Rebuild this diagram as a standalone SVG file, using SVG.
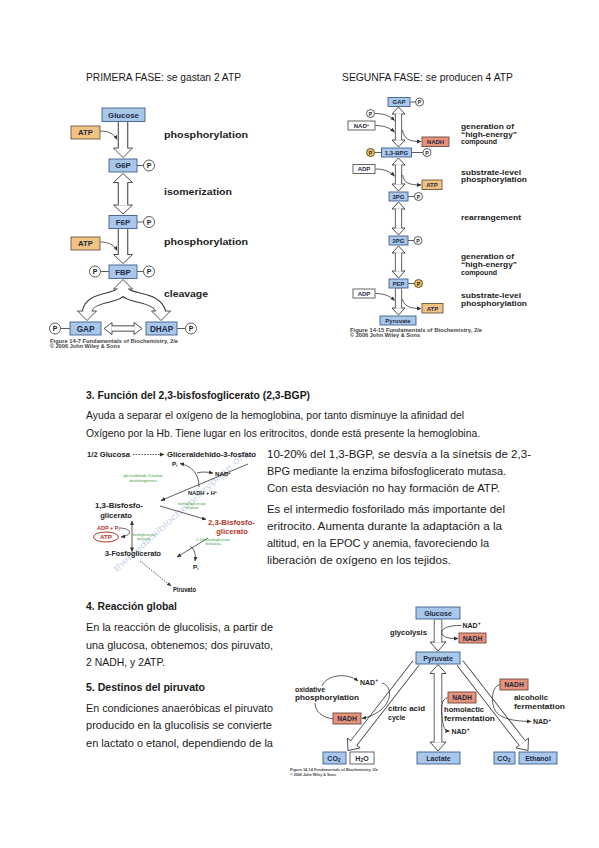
<svg xmlns="http://www.w3.org/2000/svg" width="599" height="848" viewBox="0 0 599 848">
<defs>
<style>
text{font-family:"Liberation Sans",Arial,sans-serif}
.t{font-size:11.6px;fill:#1a1a1a}
.tb{font-size:11.6px;fill:#1a1a1a;font-weight:bold}
.lb{font-weight:bold;fill:#1f2b44;text-anchor:middle}
.dl{font-weight:bold;fill:#222}
.cap{font-weight:bold;fill:#444}
.bx{fill:#a8c7ea;stroke:#3e5f8c;stroke-width:0.9}
.or{fill:#f2c283;stroke:#6a5842;stroke-width:0.9}
.rd{fill:#e8927a;stroke:#6a4a40;stroke-width:0.9}
.wb{fill:#fff;stroke:#555;stroke-width:0.9}
.pc{fill:#fff;stroke:#333;stroke-width:0.8}
.py{fill:#f3c54f;stroke:#333;stroke-width:0.8}
.ln{stroke:#333;stroke-width:0.8}
.ao{fill:none;stroke:#3a3a3a}
.ai{fill:none;stroke:#fff}
.hd{fill:#fff;stroke:#3a3a3a;stroke-width:0.9;stroke-linejoin:miter}
.cv{fill:none;stroke:#333;stroke-width:0.8}
.mr{fill:#b3382b}
.gr{fill:#43a047;font-size:3.8px;text-anchor:middle}
.ptx{font-weight:bold;fill:#222;text-anchor:middle}
</style>
<marker id="ah" viewBox="0 0 6 6" refX="5.5" refY="3" markerWidth="4.5" markerHeight="4.5" orient="auto-start-reverse" markerUnits="userSpaceOnUse"><path d="M0,0.4 L6,3 L0,5.6z" fill="#333"/></marker>
</defs>
<rect width="599" height="848" fill="#fff"/>

<!-- Body text -->
<g id="texts">
<text class="t" x="86" y="81" textLength="155" lengthAdjust="spacingAndGlyphs">PRIMERA FASE: se gastan 2 ATP</text>
<text class="t" x="342" y="81" textLength="171" lengthAdjust="spacingAndGlyphs">SEGUNFA FASE: se producen 4 ATP</text>
<text class="tb" x="86" y="399" textLength="224" lengthAdjust="spacingAndGlyphs">3. Función del 2,3-bisfosfoglicerato (2,3-BGP)</text>
<text class="t" x="86" y="418.5" textLength="378" lengthAdjust="spacingAndGlyphs">Ayuda a separar el oxígeno de la hemoglobina, por tanto disminuye la afinidad del</text>
<text class="t" x="86" y="436.5" textLength="394" lengthAdjust="spacingAndGlyphs">Oxígeno por la Hb. Tiene lugar en los eritrocitos, donde está presente la hemoglobina.</text>
<text class="t" x="267" y="458" textLength="264" lengthAdjust="spacingAndGlyphs">10-20% del 1,3-BGP, se desvía a la sínetsis de 2,3-</text>
<text class="t" x="267" y="475" textLength="239" lengthAdjust="spacingAndGlyphs">BPG mediante la enzima bifosfoglicerato mutasa.</text>
<text class="t" x="267" y="492" textLength="233" lengthAdjust="spacingAndGlyphs">Con esta desviación no hay formación de ATP.</text>
<text class="t" x="267" y="513" textLength="238" lengthAdjust="spacingAndGlyphs">Es el intermedio fosforilado más importante del</text>
<text class="t" x="267" y="530" textLength="235" lengthAdjust="spacingAndGlyphs">eritrocito. Aumenta durante la adaptación a la</text>
<text class="t" x="267" y="547" textLength="222" lengthAdjust="spacingAndGlyphs">altitud, en la  EPOC y anemia, favoreciendo la</text>
<text class="t" x="267" y="564" textLength="184" lengthAdjust="spacingAndGlyphs">liberación de oxígeno en los tejidos.</text>
<text class="tb" x="86" y="610" textLength="91" lengthAdjust="spacingAndGlyphs">4. Reacción global</text>
<text class="t" x="86" y="631" textLength="187" lengthAdjust="spacingAndGlyphs">En la reacción de glucolisis, a partir de</text>
<text class="t" x="86" y="648.5" textLength="187" lengthAdjust="spacingAndGlyphs">una glucosa, obtenemos; dos piruvato,</text>
<text class="t" x="86" y="666" textLength="79" lengthAdjust="spacingAndGlyphs">2 NADH, y 2ATP.</text>
<text class="tb" x="86" y="690.5" textLength="119" lengthAdjust="spacingAndGlyphs">5. Destinos del piruvato</text>
<text class="t" x="86" y="711.5" textLength="187" lengthAdjust="spacingAndGlyphs">En condiciones anaeróbicas el piruvato</text>
<text class="t" x="86" y="729" textLength="186" lengthAdjust="spacingAndGlyphs">producido en la glucolisis se convierte</text>
<text class="t" x="86" y="746.5" textLength="187" lengthAdjust="spacingAndGlyphs">en lactato o etanol, dependiendo de la</text>
</g>

<!-- ===== Diagram 1: PRIMERA FASE ===== -->
<g id="conn-fase1">
<g class="ao" stroke-width="10.5">
<path d="M123,122 V149"/><path d="M123,183 V204.5"/><path d="M123,229 V255"/>
<path d="M123,288 C122,301 89,294 87,312"/><path d="M123,288 C124,301 157,294 161,312"/>
</g>
<path class="ao" stroke-width="6.2" d="M112,328.5 H134"/>
<polygon class="hd" points="113.5,148 132.5,148 123,157.5"/>
<polygon class="hd" points="113.5,182.5 132.5,182.5 123,173.5"/>
<polygon class="hd" points="113.5,205 132.5,205 123,214"/>
<polygon class="hd" points="113.5,254.5 132.5,254.5 123,263.5"/>
<polygon class="hd" points="113.5,289 132.5,289 123,279.5"/>
<polygon class="hd" points="77.5,311 96.5,311 87,320.5"/>
<polygon class="hd" points="151.5,311 170.5,311 161,320.5"/>
<polygon class="hd" points="112,322.5 112,334.5 104,328.5"/>
<polygon class="hd" points="134,322.5 134,334.5 142,328.5"/>
<g class="ai" stroke-width="8.5">
<path d="M123,122 V149.5"/><path d="M123,181.9 V205.6"/><path d="M123,229 V255.4"/>
<path d="M123,287.5 C122,301 89,294 87,312.5"/><path d="M123,287.5 C124,301 157,294 161,312.5"/>
</g>
<path class="ai" stroke-width="4.4" d="M111.4,328.5 H134.6"/>
<path class="cv" marker-end="url(#ah)" d="M100.5,131 C109,131 114.5,134.5 117,139.5"/>
<path class="cv" marker-end="url(#ah)" d="M100.5,242 C109,242 114.5,245.5 117,250.5"/>
<line class="ln" x1="137" y1="165.5" x2="143.5" y2="165.5"/>
<line class="ln" x1="137" y1="222" x2="143.5" y2="222"/>
<line class="ln" x1="100.5" y1="271.5" x2="109" y2="271.5"/>
<line class="ln" x1="137" y1="271.5" x2="143.5" y2="271.5"/>
<line class="ln" x1="60.5" y1="328.5" x2="70" y2="328.5"/>
<line class="ln" x1="177" y1="328.5" x2="185.5" y2="328.5"/>
</g>
<g id="glucose1"><rect class="bx" x="102" y="108" width="43" height="13.5"/><text class="lb" x="123.5" y="117.6" font-size="7.8">Glucose</text></g>
<g id="atp1a"><rect class="or" x="71" y="126" width="29" height="13"/><text class="lb" x="85.5" y="135.4" font-size="7.8">ATP</text></g>
<g id="g6p"><rect class="bx" x="109" y="159" width="28" height="13"/><text class="lb" x="123" y="168.4" font-size="7.8">G6P</text>
<circle class="pc" cx="149" cy="165.5" r="5.5"/><text class="ptx" x="149" y="168.2" font-size="7">P</text></g>
<g id="f6p"><rect class="bx" x="109" y="215.5" width="28" height="13"/><text class="lb" x="123" y="224.9" font-size="7.8">F6P</text>
<circle class="pc" cx="149" cy="222" r="5.5"/><text class="ptx" x="149" y="224.7" font-size="7">P</text></g>
<g id="atp1b"><rect class="or" x="71" y="237" width="29" height="13"/><text class="lb" x="85.5" y="246.4" font-size="7.8">ATP</text></g>
<g id="fbp"><rect class="bx" x="109" y="265" width="28" height="13.5"/><text class="lb" x="123" y="274.6" font-size="7.8">FBP</text>
<circle class="pc" cx="95" cy="271.5" r="5.5"/><text class="ptx" x="95" y="274.2" font-size="7">P</text>
<circle class="pc" cx="149" cy="271.5" r="5.5"/><text class="ptx" x="149" y="274.2" font-size="7">P</text></g>
<g id="gap1"><rect class="bx" x="70" y="322" width="31" height="13"/><text class="lb" x="85.5" y="331.6" font-size="8.2">GAP</text>
<circle class="pc" cx="55" cy="328.5" r="5.5"/><text class="ptx" x="55" y="331.2" font-size="7">P</text></g>
<g id="dhap"><rect class="bx" x="146" y="322" width="31" height="13"/><text class="lb" x="161.5" y="331.6" font-size="8.2">DHAP</text>
<circle class="pc" cx="191" cy="328.5" r="5.5"/><text class="ptx" x="191" y="331.2" font-size="7">P</text></g>
<g id="labels1">
<text class="dl" x="164" y="137.5" font-size="9.5" textLength="84" lengthAdjust="spacingAndGlyphs">phosphorylation</text>
<text class="dl" x="164" y="195" font-size="9.5" textLength="68" lengthAdjust="spacingAndGlyphs">isomerization</text>
<text class="dl" x="164" y="245" font-size="9.5" textLength="84" lengthAdjust="spacingAndGlyphs">phosphorylation</text>
<text class="dl" x="164" y="296.5" font-size="9.5" textLength="44" lengthAdjust="spacingAndGlyphs">cleavage</text>
<text class="cap" x="50" y="342.5" font-size="4.6" textLength="128" lengthAdjust="spacingAndGlyphs">Figure 14-7  Fundamentals of Biochemistry, 2/e</text>
<text class="cap" x="50" y="347.5" font-size="4.6" textLength="70" lengthAdjust="spacingAndGlyphs">© 2006 John Wiley &amp; Sons</text>
</g>

<!-- ===== Diagram 2: SEGUNDA FASE ===== -->
<g id="conn-fase2">
<g class="ao" stroke-width="7.2">
<path d="M398.5,114 V140"/><path d="M398.5,165 V184"/><path d="M398.5,209 V228"/><path d="M398.5,253 V271"/><path d="M398.5,288.5 V308"/>
</g>
<polygon class="hd" points="392,114 405,114 398.5,107"/><polygon class="hd" points="392,140 405,140 398.5,147"/>
<polygon class="hd" points="392,165 405,165 398.5,158"/><polygon class="hd" points="392,184 405,184 398.5,191"/>
<polygon class="hd" points="392,209 405,209 398.5,202"/><polygon class="hd" points="392,228 405,228 398.5,235"/>
<polygon class="hd" points="392,253 405,253 398.5,246"/><polygon class="hd" points="392,271 405,271 398.5,278"/>
<polygon class="hd" points="392,308 405,308 398.5,315"/>
<g class="ai" stroke-width="5.6">
<path d="M398.5,113.4 V140.6"/><path d="M398.5,164.4 V184.6"/><path d="M398.5,208.4 V228.6"/><path d="M398.5,252.4 V271.6"/><path d="M398.5,288.5 V308.6"/>
</g>
<path class="cv" marker-end="url(#ah)" d="M374.5,113.5 C384,113.5 390,116 394.5,120.5"/>
<path class="cv" marker-end="url(#ah)" d="M375.5,125.5 C384,125.5 390,128 394.5,132"/>
<path class="cv" marker-end="url(#ah)" d="M402.5,130 C404,139 409,141.5 421,141.5"/>
<path class="cv" marker-end="url(#ah)" d="M375.5,169 C384,169 390,171.5 394.5,176"/>
<path class="cv" marker-end="url(#ah)" d="M402.5,175 C404,183 409,185 421,185"/>
<path class="cv" marker-end="url(#ah)" d="M375.5,293.5 C384,293.5 390,296 394.5,300.5"/>
<path class="cv" marker-end="url(#ah)" d="M402.5,299 C404,306 409,308.5 421,308.5"/>
<line class="ln" x1="410" y1="102" x2="415.5" y2="102"/>
<line class="ln" x1="374.5" y1="152.5" x2="381.5" y2="152.5"/>
<line class="ln" x1="411.5" y1="152.5" x2="423" y2="152.5"/>
<line class="ln" x1="408" y1="196.5" x2="414.5" y2="196.5"/>
<line class="ln" x1="408" y1="240.5" x2="414" y2="240.5"/>
<line class="ln" x1="408" y1="283.5" x2="414.5" y2="283.5"/>
</g>
<g id="gap2"><rect class="bx" x="388" y="97.5" width="22" height="9"/><text class="lb" x="399" y="104.3" font-size="6">GAP</text>
<circle class="pc" cx="419.5" cy="102" r="4"/><text class="ptx" x="419.5" y="104" font-size="5.2">P</text></g>
<g id="pi2"><circle class="pc" cx="370.5" cy="113.5" r="4"/><text class="ptx" x="370.5" y="115.5" font-size="5.2">P</text></g>
<g id="nad2"><rect class="wb" x="348" y="121" width="27" height="9"/><text class="lb" x="361.5" y="127.8" font-size="6">NAD<tspan font-size="4.2" dy="-2">+</tspan></text></g>
<g id="nadh2"><rect class="rd" x="422" y="137" width="27" height="9.5"/><text class="lb" x="435.5" y="144" font-size="6">NADH</text></g>
<g id="bpg13"><rect class="bx" x="381.5" y="148" width="30" height="9"/><text class="lb" x="396.5" y="154.8" font-size="6">1,3-BPG</text>
<circle class="py" cx="370.5" cy="152.5" r="4"/><text class="ptx" x="370.5" y="154.5" font-size="5.2">P</text>
<circle class="pc" cx="427" cy="152.5" r="4"/><text class="ptx" x="427" y="154.5" font-size="5.2">P</text></g>
<g id="adp2a"><rect class="wb" x="353" y="164.5" width="22" height="9"/><text class="lb" x="364" y="171.3" font-size="6">ADP</text></g>
<g id="atp2a"><rect class="or" x="422" y="180" width="20" height="9.5"/><text class="lb" x="432" y="187" font-size="6">ATP</text></g>
<g id="pg3"><rect class="bx" x="389" y="192" width="19" height="9"/><text class="lb" x="398.5" y="198.8" font-size="6">3PG</text>
<circle class="pc" cx="418.5" cy="196.5" r="4"/><text class="ptx" x="418.5" y="198.5" font-size="5.2">P</text></g>
<g id="pg2"><rect class="bx" x="389" y="236" width="19" height="9"/><text class="lb" x="398.5" y="242.8" font-size="6">2PG</text>
<circle class="pc" cx="418" cy="240.5" r="4"/><text class="ptx" x="418" y="242.5" font-size="5.2">P</text></g>
<g id="pep"><rect class="bx" x="389" y="279" width="19" height="9"/><text class="lb" x="398.5" y="285.8" font-size="6">PEP</text>
<circle class="py" cx="418.5" cy="283.5" r="4"/><text class="ptx" x="418.5" y="285.5" font-size="5.2">P</text></g>
<g id="adp2b"><rect class="wb" x="353" y="289" width="22" height="9"/><text class="lb" x="364" y="295.8" font-size="6">ADP</text></g>
<g id="atp2b"><rect class="or" x="422" y="303.5" width="21" height="9.5"/><text class="lb" x="432.5" y="310.5" font-size="6">ATP</text></g>
<g id="pyr2"><rect class="bx" x="380" y="316" width="36" height="9"/><text class="lb" x="398" y="322.8" font-size="6">Pyruvate</text></g>
<g id="labels2" font-size="6.6">
<text class="dl" x="461" y="129" textLength="53" lengthAdjust="spacingAndGlyphs">generation of</text>
<text class="dl" x="461" y="136.5" textLength="56" lengthAdjust="spacingAndGlyphs">“high-energy”</text>
<text class="dl" x="461" y="144" textLength="36" lengthAdjust="spacingAndGlyphs">compound</text>
<text class="dl" x="461" y="174.8" textLength="60" lengthAdjust="spacingAndGlyphs">substrate-level</text>
<text class="dl" x="461" y="182.3" textLength="66" lengthAdjust="spacingAndGlyphs">phosphorylation</text>
<text class="dl" x="461" y="219.6" textLength="60" lengthAdjust="spacingAndGlyphs">rearrangement</text>
<text class="dl" x="461" y="259" textLength="53" lengthAdjust="spacingAndGlyphs">generation of</text>
<text class="dl" x="461" y="267" textLength="56" lengthAdjust="spacingAndGlyphs">“high-energy”</text>
<text class="dl" x="461" y="275" textLength="36" lengthAdjust="spacingAndGlyphs">compound</text>
<text class="dl" x="461" y="298.3" textLength="60" lengthAdjust="spacingAndGlyphs">substrate-level</text>
<text class="dl" x="461" y="306" textLength="66" lengthAdjust="spacingAndGlyphs">phosphorylation</text>
<text class="cap" x="350" y="331.5" font-size="4.6" textLength="132" lengthAdjust="spacingAndGlyphs">Figure 14-15  Fundamentals of Biochemistry, 2/e</text>
<text class="cap" x="350" y="336.5" font-size="4.6" textLength="70" lengthAdjust="spacingAndGlyphs">© 2006 John Wiley &amp; Sons</text>
</g>

<!-- ===== Diagram 3: 2,3-BPG shunt ===== -->
<g id="watermark"><text x="0" y="0" transform="translate(117,572) rotate(-42)" font-size="9" fill="#8fb0dd" fill-opacity="0.55" textLength="177" lengthAdjust="spacingAndGlyphs">themedicalbiochemistrypage.org</text></g>
<g id="conn-shunt">
<line class="cv" x1="133" y1="454.5" x2="164" y2="454.5" stroke-dasharray="1.6 1.2" marker-end="url(#ah)"/>
<line class="cv" x1="248" y1="464" x2="161" y2="500.5" marker-end="url(#ah)"/>
<path class="cv" marker-end="url(#ah)" d="M199,487 C199,474 192,466 180,463.5"/>
<path class="cv" marker-end="url(#ah)" d="M197,473 C202,471.5 207,472 213,473"/>
<line class="cv" x1="160" y1="506" x2="206" y2="519.5" marker-end="url(#ah)"/>
<line class="cv" x1="132" y1="521" x2="132" y2="551.5" marker-start="url(#ah)" marker-end="url(#ah)"/>
<path class="cv" marker-end="url(#ah)" d="M119,528 C131,528 134,535 121,537"/>
<line class="cv" x1="208" y1="538" x2="177" y2="557" marker-end="url(#ah)"/>
<path class="cv" marker-end="url(#ah)" d="M190,546.5 C195,549 196,555 195,561"/>
<line class="cv" x1="140" y1="561" x2="171" y2="586" stroke-dasharray="1.6 1.2" marker-end="url(#ah)"/>
</g>
<g id="glucosa-half"><text class="dl" x="87" y="456.8" font-size="7.6" textLength="43" lengthAdjust="spacingAndGlyphs">1/2 Glucosa</text></g>
<g id="gliceraldehido"><text class="dl" x="167" y="456.8" font-size="7.6" textLength="89" lengthAdjust="spacingAndGlyphs">Gliceraldehido-3-fosfato</text></g>
<g id="gapdh">
<text class="dl" x="172" y="465.5" font-size="6.2">P<tspan font-size="4" dy="1.5">i</tspan></text>
<text class="dl" x="215" y="475.5" font-size="6.2">NAD<tspan font-size="4" dy="-2">+</tspan></text>
<text class="dl" x="188" y="495" font-size="6.2" textLength="29" lengthAdjust="spacingAndGlyphs">NADH + H<tspan font-size="4" dy="-2">+</tspan></text>
<text class="gr" x="143" y="477">gliceraldehido-3-fosfato</text>
<text class="gr" x="143" y="482">deshidrogenasa</text>
</g>
<g id="bpg13m"><text class="dl" x="95" y="507.8" font-size="7.6" textLength="48" lengthAdjust="spacingAndGlyphs">1,3-Bisfosfo-</text>
<text class="dl" x="116" y="517.8" font-size="7.6" text-anchor="middle">glicerato</text></g>
<g id="mutasa"><text class="gr" x="192" y="504.5">bisfosfoglicerato</text><text class="gr" x="192" y="509">mutasa</text></g>
<g id="bpg23"><text class="dl mr" x="208" y="524.8" font-size="7.6" textLength="47" lengthAdjust="spacingAndGlyphs">2,3-Bisfosfo-</text>
<text class="dl mr" x="232" y="534.3" font-size="7.6" text-anchor="middle">glicerato</text></g>
<g id="pgk"><text class="gr" x="144" y="535.5">fosfoglicerato</text><text class="gr" x="144" y="540">quinasa</text>
<text class="dl mr" x="97" y="530" font-size="5.5">ADP + P<tspan font-size="3.8" dy="1.3">i</tspan></text></g>
<g id="atp-m"><ellipse cx="106" cy="537" rx="12.5" ry="5" fill="none" stroke="#b3382b" stroke-width="1"/><text class="dl mr" x="106" y="539.3" font-size="6.2" text-anchor="middle">ATP</text></g>
<g id="pg3m"><text class="dl" x="105" y="555.8" font-size="7.6" textLength="56" lengthAdjust="spacingAndGlyphs">3-Fosfoglicerato</text></g>
<g id="fosfatasa"><text class="gr" x="213" y="540.5">2,3-bisfosfoglicerato</text><text class="gr" x="213" y="545">fosfatasa</text>
<text class="dl" x="193" y="568.5" font-size="6.2">P<tspan font-size="4" dy="1.5">i</tspan></text></g>
<g id="piruvato-m"><text class="dl" x="173" y="591.8" font-size="7.6" textLength="23" lengthAdjust="spacingAndGlyphs">Piruvato</text></g>

<!-- ===== Diagram 4: Destinos del piruvato ===== -->
<g id="conn-destinos">
<g class="ao" stroke-width="8.5">
<path d="M438,619.5 V642.5"/><path d="M438,674 V741.5"/>
<path d="M416,663 L353.83,743"/><path d="M460,663 L522.17,743"/>
</g>
<polygon class="hd" points="430,642 446,642 438,651"/>
<polygon class="hd" points="430,673.5 446,673.5 438,664.5"/>
<polygon class="hd" points="430,742 446,742 438,751"/>
<polygon class="hd" points="360.15,747.9 347.51,738.08 348,750.5"/>
<polygon class="hd" points="528.49,738.09 515.85,747.91 528,750.5"/>
<g class="ai" stroke-width="6.9">
<path d="M438,619.5 V642.6"/><path d="M438,673 V742.5"/>
<path d="M416,663 L353.46,743.46"/><path d="M460,663 L522.54,743.47"/>
</g>
<path class="cv" marker-end="url(#ah)" d="M461,625.5 C446,625 440,630 442,634 C444,638 450,638.5 458,638.5"/>
<path class="cv" d="M334,719 C322,718 315,711 315,703"/>
<path class="cv" marker-end="url(#ah)" d="M322,686 C326,675 347,672 358,681"/>
<path class="cv" marker-end="url(#ah)" d="M382,683 C395,686 393,712 362,718.5"/>
<path class="cv" marker-end="url(#ah)" d="M448,697.5 C441,699 441,708 442,716 C443,726 444,731 449.5,731"/>
<path class="cv" marker-end="url(#ah)" d="M500,684.5 C492,686 491,700 494,708 C498,718 510,721 531,721.5"/>
</g>
<g id="glucose4"><rect class="bx" x="416" y="607" width="44" height="12"/><text class="lb" x="438" y="615.6" font-size="7">Glucose</text></g>
<g id="nadh4a"><rect class="rd" x="459" y="633" width="27" height="10"/><text class="lb" x="472.5" y="640.5" font-size="6.8">NADH</text></g>
<g id="pyr4"><rect class="bx" x="416" y="652" width="44" height="12"/><text class="lb" x="438" y="660.6" font-size="7">Pyruvate</text></g>
<g id="nadh4b"><rect class="rd" x="333" y="713" width="28" height="11"/><text class="lb" x="347" y="721" font-size="6.8">NADH</text></g>
<g id="nadh4c"><rect class="rd" x="448" y="692" width="28" height="11"/><text class="lb" x="462" y="700" font-size="6.8">NADH</text></g>
<g id="nadh4d"><rect class="rd" x="500" y="679" width="28" height="11"/><text class="lb" x="514" y="687" font-size="6.8">NADH</text></g>
<g id="co2a"><rect class="bx" x="323" y="752" width="23" height="12"/><text class="lb" x="334" y="760.5" font-size="7">CO<tspan font-size="5" dy="1.5">2</tspan></text></g>
<g id="h2o"><rect class="wb" x="350" y="752" width="24" height="12"/><text class="lb" x="362" y="760.5" font-size="7">H<tspan font-size="5" dy="1.5">2</tspan><tspan dy="-1.5">O</tspan></text></g>
<g id="lactate"><rect class="bx" x="417" y="752" width="43" height="12"/><text class="lb" x="438.5" y="760.5" font-size="7">Lactate</text></g>
<g id="co2b"><rect class="bx" x="494" y="752" width="21" height="12"/><text class="lb" x="504" y="760.5" font-size="7">CO<tspan font-size="5" dy="1.5">2</tspan></text></g>
<g id="ethanol"><rect class="bx" x="519" y="752" width="38" height="12"/><text class="lb" x="538" y="760.5" font-size="7">Ethanol</text></g>
<g id="labels4" font-size="7">
<text class="dl" x="390" y="634.5" textLength="37" lengthAdjust="spacingAndGlyphs">glycolysis</text>
<text class="dl" x="462.5" y="627.8">NAD<tspan font-size="5" dy="-2.5">+</tspan></text>
<text class="dl" x="295" y="691.5" textLength="30" lengthAdjust="spacingAndGlyphs">oxidative</text>
<text class="dl" x="295" y="699.5" textLength="64" lengthAdjust="spacingAndGlyphs">phosphorylation</text>
<text class="dl" x="360" y="684.5">NAD<tspan font-size="5" dy="-2.5">+</tspan></text>
<text class="dl" x="388" y="710.5" textLength="37" lengthAdjust="spacingAndGlyphs">citric acid</text>
<text class="dl" x="388" y="719.5">cycle</text>
<text class="dl" x="444" y="711.5" textLength="40" lengthAdjust="spacingAndGlyphs">homolactic</text>
<text class="dl" x="444" y="720.5" textLength="51" lengthAdjust="spacingAndGlyphs">fermentation</text>
<text class="dl" x="451.5" y="733.5">NAD<tspan font-size="5" dy="-2.5">+</tspan></text>
<text class="dl" x="514" y="699.5" textLength="34" lengthAdjust="spacingAndGlyphs">alcoholic</text>
<text class="dl" x="514" y="708.5" textLength="51" lengthAdjust="spacingAndGlyphs">fermentation</text>
<text class="dl" x="533" y="724">NAD<tspan font-size="5" dy="-2.5">+</tspan></text>
<text class="cap" x="290" y="770.5" font-size="3.6" textLength="88" lengthAdjust="spacingAndGlyphs">Figure 14-14  Fundamentals of Biochemistry, 2/e</text>
<text class="cap" x="290" y="775.5" font-size="3.6" textLength="46" lengthAdjust="spacingAndGlyphs">© 2006 John Wiley &amp; Sons</text>
</g>
</svg>
